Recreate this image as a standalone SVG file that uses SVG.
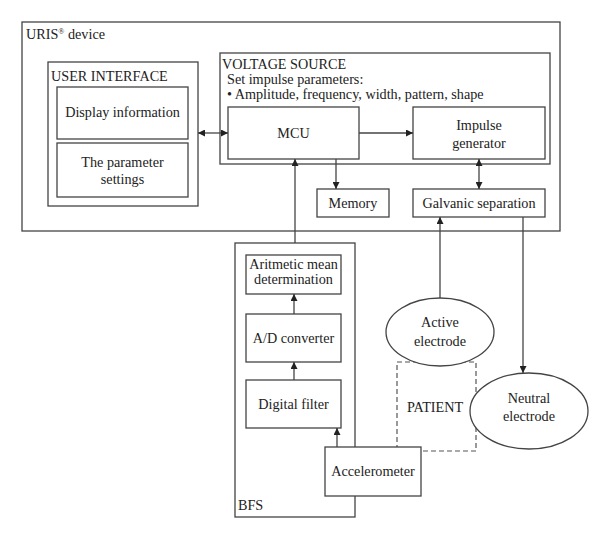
<svg xmlns="http://www.w3.org/2000/svg" width="600" height="540" viewBox="0 0 600 540">
<style>
.b{fill:#fff;stroke:#444;stroke-width:1.3}
.c{fill:none;stroke:#444;stroke-width:1.3}
text{font-family:"Liberation Serif","Times New Roman",serif;font-size:14.2px;fill:#222}
.m{text-anchor:middle}
</style>
<defs>
<marker id="a" viewBox="0 0 10 10" refX="10" refY="5" markerWidth="7" markerHeight="7" markerUnits="userSpaceOnUse" orient="auto-start-reverse"><path d="M0,0L10,5L0,10z" fill="#222"/></marker>
</defs>
<rect width="600" height="540" fill="#fff"/>
<g id="uris"><rect class="b" x="22" y="22" width="538" height="209"/><text x="26" y="39">URIS<tspan font-size="8" dy="-5">®</tspan><tspan dy="5"> device</tspan></text></g>
<g id="user-interface"><rect class="b" x="48" y="62" width="150" height="144"/><text x="51" y="81">USER INTERFACE</text></g>
<g id="display"><rect class="b" x="57" y="87" width="131" height="52"/><text class="m" x="122.5" y="117">Display information</text></g>
<g id="params"><rect class="b" x="57" y="143" width="131" height="54"/><text class="m" x="122.5" y="167">The parameter</text><text class="m" x="122.5" y="184">settings</text></g>
<g id="voltage-source"><rect class="b" x="220" y="53" width="330" height="111"/><text x="222" y="69">VOLTAGE SOURCE</text><text x="227" y="84">Set impulse parameters:</text><text x="227" y="99">• Amplitude, frequency, width, pattern, shape</text></g>
<g id="mcu"><rect class="b" x="228" y="107" width="131" height="52"/><text class="m" x="293.5" y="138">MCU</text></g>
<g id="impulse"><rect class="b" x="413" y="107" width="132" height="52"/><text class="m" x="479" y="130">Impulse</text><text class="m" x="479" y="148">generator</text></g>
<g id="memory"><rect class="b" x="317" y="189" width="72" height="28"/><text class="m" x="353" y="208">Memory</text></g>
<g id="galvanic"><rect class="b" x="413" y="189" width="132" height="28"/><text class="m" x="479" y="208">Galvanic separation</text></g>
<g id="bfs"><rect class="b" x="235" y="243" width="120" height="274"/><text x="238" y="510">BFS</text></g>
<g id="aritmetic"><rect class="b" x="246" y="255" width="95" height="39"/><text class="m" x="293.5" y="269">Aritmetic mean</text><text class="m" x="293.5" y="284">determination</text></g>
<g id="ad"><rect class="b" x="246" y="314" width="95" height="48"/><text class="m" x="293.5" y="343">A/D converter</text></g>
<g id="filter"><rect class="b" x="246" y="380" width="95" height="48"/><text class="m" x="293.5" y="409">Digital filter</text></g>
<g id="patient"><rect x="397" y="362" width="79" height="89" fill="none" stroke="#555" stroke-width="1.2" stroke-dasharray="5,3"/><text class="m" x="435" y="412">PATIENT</text></g>
<g id="accelerometer"><rect class="b" x="325" y="447" width="96" height="49"/><text class="m" x="373" y="476">Accelerometer</text></g>
<g id="active"><ellipse class="b" cx="440" cy="332" rx="54" ry="34"/><text class="m" x="440" y="327">Active</text><text class="m" x="440" y="346">electrode</text></g>
<g id="neutral"><ellipse class="b" cx="529" cy="411" rx="59" ry="38"/><text class="m" x="529" y="403">Neutral</text><text class="m" x="529" y="421">electrode</text></g>
<g id="connectors">
<line class="c" x1="198" y1="133" x2="228" y2="133" marker-start="url(#a)" marker-end="url(#a)"/>
<line class="c" x1="359" y1="133" x2="413" y2="133" marker-end="url(#a)"/>
<line class="c" x1="336" y1="159" x2="336" y2="189" marker-end="url(#a)"/>
<line class="c" x1="479" y1="159" x2="479" y2="189" marker-start="url(#a)" marker-end="url(#a)"/>
<line class="c" x1="295" y1="243" x2="295" y2="159" marker-end="url(#a)"/>
<line class="c" x1="440" y1="298" x2="440" y2="217" marker-end="url(#a)"/>
<line class="c" x1="523" y1="217" x2="523" y2="373" marker-end="url(#a)"/>
<line class="c" x1="294" y1="314" x2="294" y2="294" marker-end="url(#a)"/>
<line class="c" x1="294" y1="380" x2="294" y2="362" marker-end="url(#a)"/>
<line class="c" x1="337" y1="447" x2="337" y2="428" marker-end="url(#a)"/>
</g>
</svg>
